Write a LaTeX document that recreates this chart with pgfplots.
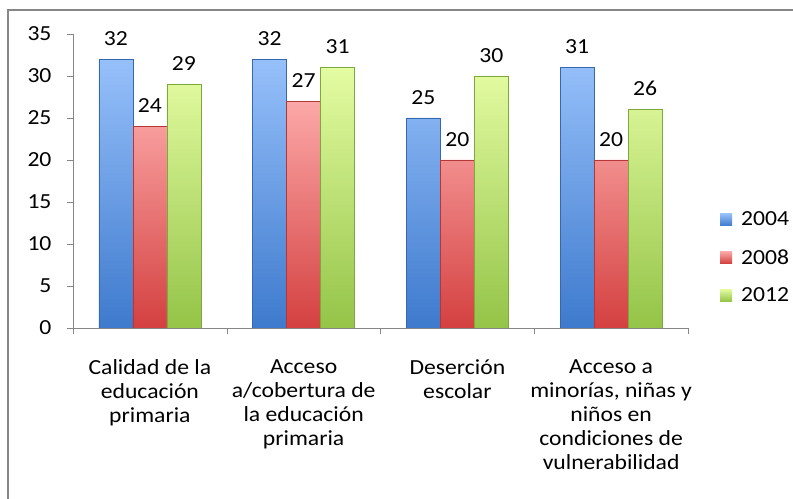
\documentclass[border=0pt]{standalone}
\usepackage{pgfplots}
\pgfplotsset{compat=1.18}
\usepackage{fontspec}
\setmainfont{Carlito}[FakeStretch=1.1]

\definecolor{bluetop}{RGB}{150,192,250}
\definecolor{bluebot}{RGB}{62,122,205}
\definecolor{redtop}{RGB}{252,168,168}
\definecolor{redbot}{RGB}{212,64,64}
\definecolor{greentop}{RGB}{228,252,162}
\definecolor{greenbot}{RGB}{148,196,72}
\definecolor{axisgray}{RGB}{134,134,134}

\newcommand\cf{\fontsize{21.5bp}{24bp}\selectfont}

\begin{document}
\begin{tikzpicture}
\path[use as bounding box] (0,0) rectangle (793bp,499bp);
\draw[axisgray, line width=1.3bp] (8bp,-10bp) -- (8bp,489bp) -- (803bp,489bp);
\begin{axis}[
    at={(73bp,171bp)}, anchor=south west,
    scale only axis,
    width=615bp, height=294bp,
    xmin=-0.5, xmax=3.5,
    ymin=0, ymax=35,
    ytick={0,5,...,35},
    xtick={0,1,2,3},
    xticklabels={{Calidad de la\\educación\\primaria},
                 {Acceso\\a/cobertura de\\la educación\\primaria},
                 {Deserción\\escolar},
                 {Acceso a\\minorías, niñas y\\niños en\\condiciones de\\vulnerabilidad}},
    x tick label style={align=center, yshift=-22bp},
    y tick label style={xshift=-12bp},
    major x tick style={draw=none},
    extra x ticks={-0.5,0.5,1.5,2.5,3.5},
    extra x tick labels={},
    extra x tick style={major x tick style={draw=axisgray}},
    axis lines*=left,
    axis line style={axisgray, line width=0.9bp},
    tick align=outside,
    major tick length=6bp,
    ytick style={axisgray, line width=0.9bp},
    tick label style={font=\cf, black},
    /pgf/number format/assume math mode=true,
    ybar=0pt,
    bar width=34bp,
    nodes near coords,
    nodes near coords style={font=\cf, black, yshift=10bp},
    legend style={at={(1.052,0.24)}, anchor=west, draw=none, fill=none,
                  font=\cf, row sep=18bp, inner sep=0pt},
    legend cell align=left,
]
\addplot[draw=bluebot!85!black, line width=0.5bp, top color=bluetop, bottom color=bluebot,
  legend image code/.code={\path[draw=none, fill=none, shading=none] (0bp,0bp) -- (19bp,0bp);
    \fill[draw=none, top color=bluetop, bottom color=bluebot] (0bp,-6bp) rectangle (12bp,6bp);}]
  coordinates {(0,32) (1,32) (2,25) (3,31)};
\addplot[draw=redbot!85!black, line width=0.5bp, top color=redtop, bottom color=redbot,
  legend image code/.code={\path[draw=none, fill=none, shading=none] (0bp,0bp) -- (19bp,0bp);
    \fill[draw=none, top color=redtop, bottom color=redbot] (0bp,-6bp) rectangle (12bp,6bp);}]
  coordinates {(0,24) (1,27) (2,20) (3,20)};
\addplot[draw=greenbot!85!black, line width=0.5bp, top color=greentop, bottom color=greenbot,
  legend image code/.code={\path[draw=none, fill=none, shading=none] (0bp,0bp) -- (19bp,0bp);
    \fill[draw=none, top color=greentop, bottom color=greenbot] (0bp,-6bp) rectangle (12bp,6bp);}]
  coordinates {(0,29) (1,31) (2,30) (3,26)};
\legend{2004,2008,2012}
\end{axis}
\end{tikzpicture}
\end{document}
